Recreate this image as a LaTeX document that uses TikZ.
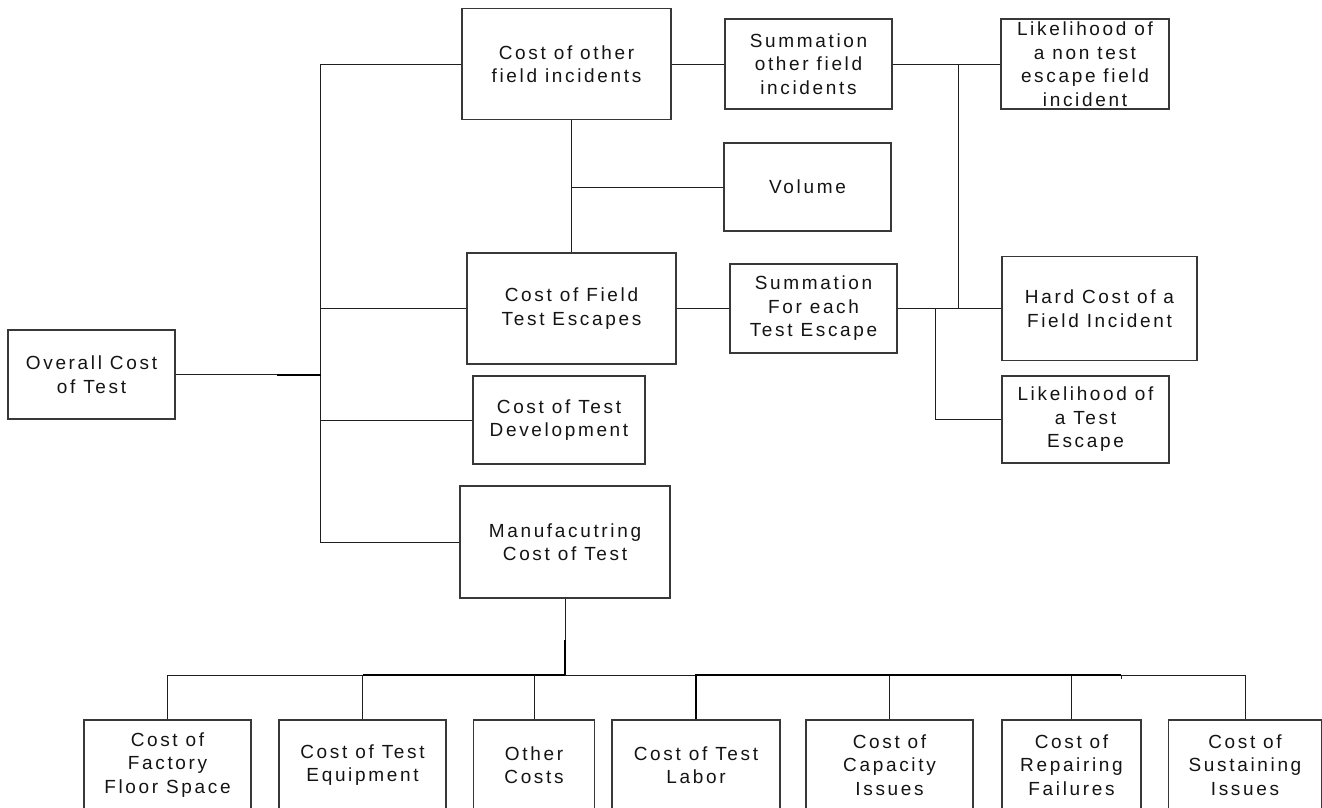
\documentclass[tikz,border=0pt]{standalone}
\usepackage{fontspec}
\setmainfont{Liberation Sans}
\newfontfamily\boxfont[LetterSpace=14]{Liberation Sans}

\tikzset{
  box/.style={draw=black!78, line width=1.2pt, inner sep=0pt, align=center,
    font=\boxfont\fontsize{19}{23.5}\selectfont, text=black!92},
  link/.style={draw=black!88, line width=1pt},
  heavy/.style={draw=black, line width=2pt},
  midlink/.style={draw=black, line width=1.5pt},
}

\begin{document}
\begin{tikzpicture}[x=1pt,y=-1pt]
  \useasboundingbox (0,0) rectangle (1322,807);
  \clip (0,0) rectangle (1322,807);
  \fill[white] (0,0) rectangle (1322,807);

  % root
  \node[box, minimum width=167pt, minimum height=89pt] (overall) at (91.5,374.5) {Overall Cost\\of Test};

  % first level
  \node[box, minimum width=209pt, minimum height=111pt] (cother)  at (566.5,64) {Cost of other\\field incidents};
  \node[box, minimum width=209pt, minimum height=111pt] (cfield)  at (571.5,308.5) {Cost of Field\\Test Escapes};
  \node[box, minimum width=172pt, minimum height=88pt]  (testdev) at (559,420) {Cost of Test\\Development};
  \node[box, minimum width=210pt, minimum height=112pt] (manuf)   at (565,542) {Manufacutring\\Cost of Test};

  % field incident branch
  \node[box, minimum width=167pt, minimum height=90pt]  (sumother) at (808.5,64) {Summation\\other field\\incidents};
  \node[box, minimum width=168pt, minimum height=90pt]  (likenon)  at (1085,64) {Likelihood of\\a non test\\escape field\\incident};
  \node[box, minimum width=167pt, minimum height=88pt]  (volume)   at (807.5,187) {Volume};
  \node[box, minimum width=167pt, minimum height=89pt]  (sumeach)  at (813.5,308.5) {Summation\\For each\\Test Escape};
  \node[box, minimum width=195pt, minimum height=104pt] (hardcost) at (1099.5,308.5) {Hard Cost of a\\Field Incident};
  \node[box, minimum width=167pt, minimum height=87pt]  (liketest) at (1085.5,419.5) {Likelihood of\\a Test\\Escape};

  % manufacturing cost items
  \node[box, minimum width=167pt, minimum height=90pt] (factory)  at (167.5,765) {Cost of\\Factory\\Floor Space};
  \node[box, minimum width=167pt, minimum height=90pt] (equip)    at (362.5,765) {Cost of Test\\Equipment};
  \node[box, minimum width=121pt, minimum height=90pt] (other)    at (534,765) {Other\\Costs};
  \node[box, minimum width=168pt, minimum height=90pt] (labor)    at (696,765) {Cost of Test\\Labor};
  \node[box, minimum width=167pt, minimum height=90pt] (capacity) at (889.5,765) {Cost of\\Capacity\\Issues};
  \node[box, minimum width=139pt, minimum height=90pt] (repair)   at (1071.5,765) {Cost of\\Repairing\\Failures};
  \node[box, minimum width=153pt, minimum height=90pt] (sustain)  at (1245,765) {Cost of\\Sustaining\\Issues};

  % trunk joining the first level
  \coordinate (trunkEnd) at (320.5,542);
  \coordinate (ojog) at (277,374.5);
  \draw[link] (cother.west) -| (trunkEnd) -- (manuf.west);
  \draw[link] (overall.east) -- (overall.east -| trunkEnd);
  \draw[heavy] (ojog) -- (overall.east -| trunkEnd);
  \draw[link] (cfield.west) -- (cfield.west -| trunkEnd);
  \draw[link] (testdev.west) -- (testdev.west -| trunkEnd);

  % field incident connectors
  \draw[link] (cfield.north) -- (cfield.north |- cother.south);
  \draw[link] (volume.west) -- (volume.west -| cfield.north);
  \draw[link] (cother.east) -- (sumother.west);
  \draw[link] (sumother.east) -- (likenon.west);
  \coordinate (jA) at (958,64);
  \draw[link] (jA) |- (hardcost.west);
  \draw[link] (cfield.east) -- (sumeach.west);
  \draw[link] (sumeach.east) -- (hardcost.west);
  \coordinate (jB) at (935.5,308.5);
  \draw[link] (jB) |- (liketest.west);

  % manufacturing bus
  \coordinate (bus) at (565,675);
  \coordinate (mjog) at (565,640);
  \coordinate (tick) at (1121,675);
  \draw[link] (manuf.south) -- (bus);
  \draw[heavy] (mjog) -- (bus);
  \draw[link] (factory.north) |- (bus) -| (sustain.north);
  \draw[midlink] (equip.north |- bus) -- (bus);
  \draw[link] (equip.north) -- (equip.north |- bus);
  \draw[link] (other.north) -- (other.north |- bus);
  \draw[link] (capacity.north) -- (capacity.north |- bus);
  \draw[link] (repair.north) -- (repair.north |- bus);
  \draw[heavy] (labor.north) |- (tick);
  \draw[link] (tick) -- ++(0,4);
\end{tikzpicture}
\end{document}
